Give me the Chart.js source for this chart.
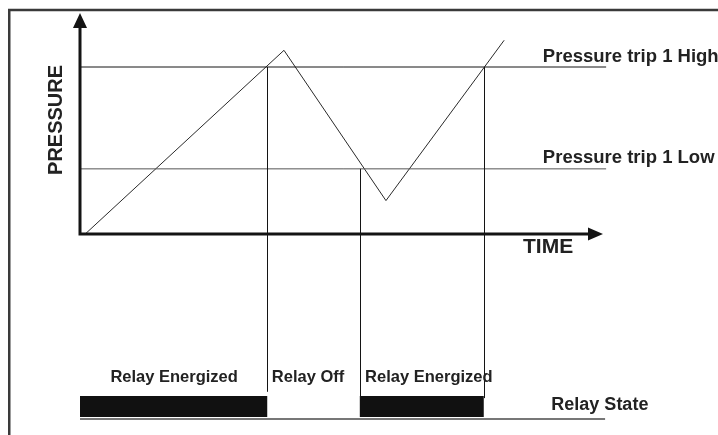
<!DOCTYPE html>
<html>
<head>
<meta charset="utf-8">
<script src="https://cdn.jsdelivr.net/npm/chart.js@4.4.1/dist/chart.umd.min.js"></script>
<style>
  html, body { margin: 0; padding: 0; background: #fff; }
  #wrap { width: 718px; height: 435px; }
</style>
</head>
<body>
<div id="wrap"><canvas id="chart" width="718" height="435"></canvas></div>
<script>
// Pressure curve (time units 0..100 along the time axis, pressure 0 = time axis)
const pressureTimes = [1, 39, 58.5, 81.1];
const pressureValues = [0, 110, 20, 116];

// Trip thresholds
const tripLabels = ['Pressure trip 1 High', 'Pressure trip 1 Low'];
const tripLevels = [100, 39];

// Relay switching points and which trip caused them
const switchTimes = [35.8, 53.5, 77.2];
const switchTrips = [0, 1, 0];

// Relay state (1 = energized, 0 = off)
const relayTimes = [0, 35.8, 53.5, 77.2, 100.4];
const relayStates = [1, 0, 1, 0, 0];
const relayLabels = ['Relay Energized', 'Relay Off', 'Relay Energized'];
const relayLabelTimes = [18, 43.6, 66.7];

const axisTitles = { y: 'PRESSURE', x: 'TIME', relay: 'Relay State' };

const colors = {
  ink: '#141414',
  text: '#222',
  lowLine: '#555',
  frame: '#3a3a3a',
  baseline: '#777'
};

const FONT = '"Liberation Sans", Arial, sans-serif';

// Canvas layout: time axis origin at x=80px, 5.23px per unit
const PX_PER_T = 5.23, ORIGIN_X = 80;
const PX_PER_P = 1.67, ORIGIN_Y = 234;
const PX_PER_R = 21, RELAY_Y = 417;
const W = 718, H = 435;

function pts(xs, ys) {
  return xs.map((x, i) => ({ x, y: ys[i] }));
}

const datasets = [];

tripLevels.forEach((level, i) => {
  datasets.push({
    data: pts([0, 100.6], [level, level]),
    borderColor: i === 0 ? colors.ink : colors.lowLine,
    borderWidth: 1,
    yAxisID: 'y'
  });
});

datasets.push({
  data: pts(pressureTimes, pressureValues),
  borderColor: '#2a2a2a',
  borderWidth: 1,
  yAxisID: 'y'
});

datasets.push({
  data: pts([0, 100.4], [-0.1, -0.1]),
  borderColor: colors.baseline,
  borderWidth: 2,
  yAxisID: 'yRelay'
});

datasets.push({
  data: pts(relayTimes, relayStates),
  stepped: true,
  borderWidth: 0,
  borderColor: 'rgba(0,0,0,0)',
  backgroundColor: '#111',
  fill: 'origin',
  yAxisID: 'yRelay'
});

const schematic = {
  id: 'schematic',
  beforeDraw(chart) {
    const ctx = chart.ctx;
    ctx.save();
    ctx.fillStyle = '#fff';
    ctx.fillRect(0, 0, W, H);
    // outer frame (runs past the right and bottom edges)
    ctx.strokeStyle = colors.frame;
    ctx.lineWidth = 2.5;
    ctx.strokeRect(9.25, 10, W + 20, H + 20);
    ctx.restore();
  },
  afterDatasetsDraw(chart) {
    const ctx = chart.ctx;
    const x = chart.scales.x, y = chart.scales.y, yr = chart.scales.yRelay;
    ctx.save();

    // relay switching drop lines
    const dropEnds = [1.2, 0.8, 0.9];
    ctx.strokeStyle = colors.ink;
    ctx.lineWidth = 1;
    switchTimes.forEach((t, i) => {
      const px = Math.round(x.getPixelForValue(t)) + 0.5;
      ctx.beginPath();
      ctx.moveTo(px, y.getPixelForValue(tripLevels[switchTrips[i]]));
      ctx.lineTo(px, yr.getPixelForValue(dropEnds[i]));
      ctx.stroke();
    });

    // axes with arrow heads
    const x0 = x.getPixelForValue(0), y0 = y.getPixelForValue(0);
    const yTop = y.getPixelForValue(132.3), xEnd = x.getPixelForValue(100);
    ctx.strokeStyle = colors.ink;
    ctx.fillStyle = colors.ink;
    ctx.lineWidth = 3;
    ctx.beginPath();
    ctx.moveTo(x0, yTop + 12);
    ctx.lineTo(x0, y0);
    ctx.lineTo(xEnd - 12, y0);
    ctx.stroke();
    ctx.beginPath();
    ctx.moveTo(x0, yTop);
    ctx.lineTo(x0 - 7, yTop + 15);
    ctx.lineTo(x0 + 7, yTop + 15);
    ctx.closePath();
    ctx.fill();
    ctx.beginPath();
    ctx.moveTo(xEnd, y0);
    ctx.lineTo(xEnd - 15, y0 - 6.5);
    ctx.lineTo(xEnd - 15, y0 + 6.5);
    ctx.closePath();
    ctx.fill();

    // texts
    ctx.fillStyle = colors.text;
    ctx.textBaseline = 'alphabetic';
    ctx.textAlign = 'left';
    ctx.font = 'bold 18.5px ' + FONT;
    tripLabels.forEach((label, i) => {
      ctx.fillText(label, x.getPixelForValue(88.5), y.getPixelForValue(tripLevels[i]) - 5.5);
    });

    ctx.textAlign = 'center';
    ctx.textBaseline = 'middle';
    ctx.font = 'bold 21px ' + FONT;
    ctx.fillText(axisTitles.x, x.getPixelForValue(89.5), y0 + 13);

    ctx.save();
    ctx.translate(x0 - 25, y.getPixelForValue(68.3));
    ctx.rotate(-Math.PI / 2);
    ctx.font = 'bold 20px ' + FONT;
    ctx.fillText(axisTitles.y, 0, 1);
    ctx.restore();

    ctx.font = 'bold 16.5px ' + FONT;
    relayLabels.forEach((label, i) => {
      ctx.fillText(label, x.getPixelForValue(relayLabelTimes[i]), yr.getPixelForValue(1.9));
    });

    ctx.font = 'bold 18px ' + FONT;
    ctx.fillText(axisTitles.relay, x.getPixelForValue(99.4), yr.getPixelForValue(0.57));

    ctx.restore();
  }
};

new Chart(document.getElementById('chart').getContext('2d'), {
  type: 'line',
  data: { datasets },
  options: {
    responsive: false,
    animation: false,
    layout: { padding: 0 },
    elements: { point: { radius: 0 }, line: { tension: 0 } },
    plugins: { legend: { display: false }, tooltip: { enabled: false } },
    scales: {
      x: {
        type: 'linear', display: false,
        min: -ORIGIN_X / PX_PER_T, max: (W - ORIGIN_X) / PX_PER_T
      },
      y: {
        type: 'linear', display: false,
        min: -(H - ORIGIN_Y) / PX_PER_P, max: ORIGIN_Y / PX_PER_P
      },
      yRelay: {
        type: 'linear', display: false,
        min: -(H - RELAY_Y) / PX_PER_R, max: RELAY_Y / PX_PER_R
      }
    }
  },
  plugins: [schematic]
});
</script>
</body>
</html>
